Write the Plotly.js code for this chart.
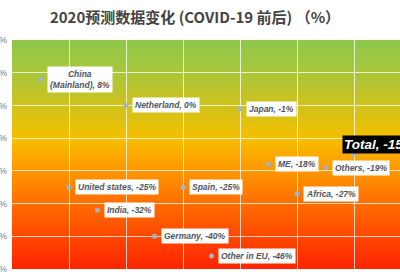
<!DOCTYPE html>
<html><head><meta charset="utf-8">
<script src="https://cdn.plot.ly/plotly-3.0.1.min.js"></script>
<style>html,body{margin:0;padding:0;width:400px;height:280px;overflow:hidden;background:#fff}</style>
</head><body><div id="chart"></div>
<script>
const names = ['China<br>(Mainland)', 'Netherland', 'Japan', 'Total', 'ME', 'Others', 'Africa', 'United states', 'Spain', 'India', 'Germany', 'Other in EU'];
const values = [8, 0, -1, -15, -18, -19, -27, -25, -25, -32, -40, -46];
const xpos = [0.5, 2, 4, 6, 4.5, 5.5, 5, 1, 3, 1.5, 2.5, 3.5];
const yTicks = [20, 10, 0, -10, -20, -30, -40, -50];

const stops = [[0,'#8ec84b'],[0.144,'#a9c63a'],[0.288,'#cfc21c'],[0.432,'#f6bf00'],[0.5,'#fcaa00'],[0.576,'#ff9500'],[0.72,'#ff6c00'],[0.864,'#ff4600'],[1,'#ff2400']];
const svg = '<svg xmlns="http://www.w3.org/2000/svg" width="100" height="100" preserveAspectRatio="none"><defs><linearGradient id="g" x1="0" y1="0" x2="0" y2="1">' +
  stops.map(s => '<stop offset="' + s[0] + '" stop-color="' + s[1] + '"/>').join('') +
  '</linearGradient></defs><rect width="100" height="100" fill="url(#g)"/></svg>';
const bgSrc = 'data:image/svg+xml;charset=utf-8,' + encodeURIComponent(svg);

const annotations = names.map((n, i) => {
  const isTotal = n === 'Total';
  if (isTotal) {
    return {x: xpos[i], y: values[i], xref: 'x', yref: 'y', text: '<b><i>' + n + ', ' + values[i] + '%</i></b>',
      showarrow: false, xanchor: 'left', yanchor: 'bottom', xshift: -12, yshift: 1,
      bgcolor: '#000', borderpad: 1, font: {family: 'Liberation Sans, Arial', size: 13.5, color: '#fff'}};
  }
  return {x: xpos[i], y: values[i], xref: 'x', yref: 'y', text: '<b><i>' + n + ', ' + values[i] + '%</i></b>',
    showarrow: false, xanchor: 'left', yanchor: 'middle', xshift: 6, align: 'center',
    bgcolor: '#fff', borderpad: 2, font: {family: 'Liberation Sans, Arial', size: 8.5, color: '#4d5560'}};
});

Plotly.newPlot('chart', [{
  type: 'scatter', mode: 'markers', x: xpos, y: values,
  marker: {size: 5, color: '#9db6c4'}, hoverinfo: 'skip'
}], {
  width: 430, height: 280,
  margin: {l: 12, r: 19, t: 40, b: 11},
  paper_bgcolor: '#fff', plot_bgcolor: 'rgba(0,0,0,0)',
  title: {text: '2020预测数据变化 (COVID-19 前后) （%）', x: 195/430, xref: 'container', xanchor: 'center', y: 0.955, yref: 'container',
    font: {family: 'Noto Sans CJK SC', size: 15, color: '#444', weight: 'bold'}},
  showlegend: false,
  images: [{source: bgSrc, xref: 'paper', yref: 'paper', x: 0, y: 1, sizex: 1, sizey: 1, sizing: 'stretch', xanchor: 'left', yanchor: 'top', layer: 'below'}],
  xaxis: {range: [0, 7], dtick: 1, tick0: 0, showticklabels: false, showgrid: true, gridcolor: 'rgba(255,255,255,0.75)', gridwidth: 1, zeroline: false, showline: false, fixedrange: true},
  yaxis: {range: [-50, 20], tickvals: yTicks, ticktext: yTicks.map(v => v + '%'), showgrid: true, gridcolor: 'rgba(255,255,255,0.75)', gridwidth: 1, zeroline: false, showline: false,
    tickfont: {family: 'Liberation Sans, Arial', size: 9, color: '#777'}, ticklabelstandoff: 4, fixedrange: true},
  annotations: annotations
}, {staticPlot: true});
</script></body></html>
